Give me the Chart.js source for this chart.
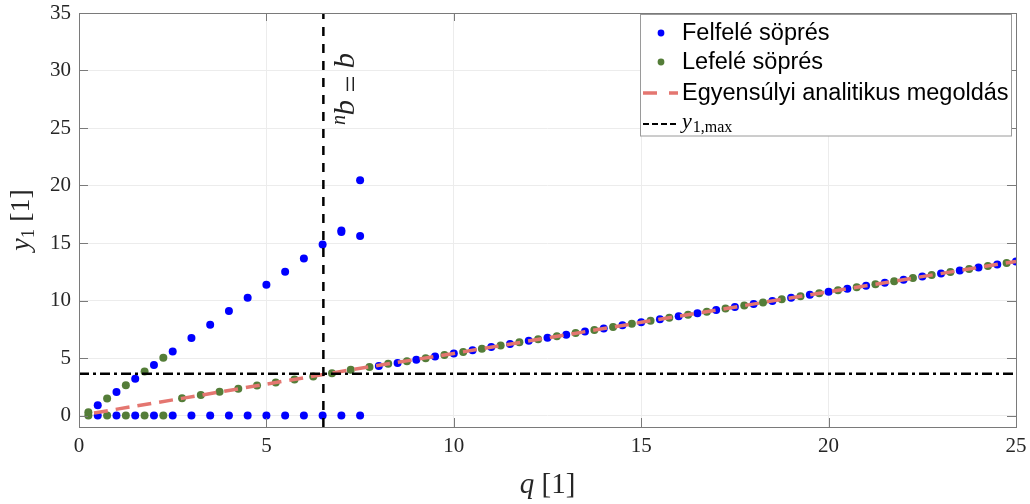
<!DOCTYPE html>
<html>
<head>
<meta charset="utf-8">
<script src="https://cdn.jsdelivr.net/npm/chart.js@4.4.1/dist/chart.umd.min.js"></script>
<style>
  html, body { margin: 0; padding: 0; background: #fff; }
  canvas { display: block; }
</style>
</head>
<body>
<canvas id="myChart" width="1030" height="504"></canvas>
<script>
// felfelé söprés (kék pontok)
const upQ = [
    0.5, 1, 1.5, 2, 2.5, 3, 3.5, 4, 4.5, 5, 5.5, 6, 6.5, 7, 7.5,
    0.5, 1, 1.5, 2, 2.5, 3, 3.5, 4, 4.5, 5, 5.5, 6, 6.5, 7, 7, 7.5, 7.5,
    8, 8.5, 9, 9.5, 10, 10.5, 11, 11.5, 12, 12.5, 13, 13.5, 14, 14.5, 15, 15.5, 16, 16.5,
    17, 17.5, 18, 18.5, 19, 19.5, 20, 20.5, 21, 21.5, 22, 22.5, 23, 23.5, 24, 24.5, 25
];
const upY = [
    0, 0, 0, 0, 0, 0, 0, 0, 0, 0, 0, 0, 0, 0, 0,
    0.89, 2.04, 3.19, 4.40, 5.57, 6.75, 7.90, 9.08, 10.23, 11.38, 12.50, 13.65, 14.87, 16.08, 15.95, 20.46, 15.60,
    4.30, 4.57, 4.84, 5.12, 5.40, 5.67, 5.95, 6.22, 6.50, 6.76, 7.03, 7.30, 7.57, 7.84, 8.10, 8.37, 8.63, 8.90,
    9.17, 9.43, 9.70, 9.96, 10.23, 10.49, 10.76, 11.02, 11.29, 11.55, 11.81, 12.08, 12.34, 12.60, 12.87, 13.13, 13.40
];

// lefelé söprés (zöld pontok)
const downQ = [
    0.25, 0.75, 1.25, 1.75, 2.25,
    0.25, 0.75, 1.25, 1.75, 2.25,
    2.75, 3.25, 3.75, 4.25, 4.75, 5.25, 5.75, 6.25, 6.75, 7.25, 7.75, 8.25, 8.75, 9.25, 9.75,
    10.25, 10.75, 11.25, 11.75, 12.25, 12.75, 13.25, 13.75, 14.25, 14.75, 15.25, 15.75, 16.25, 16.75,
    17.25, 17.75, 18.25, 18.75, 19.25, 19.75, 20.25, 20.75, 21.25, 21.75, 22.25, 22.75, 23.25, 23.75,
    24.25, 24.75
];
const downY = [
    0, 0, 0, 0, 0,
    0.28, 1.47, 2.64, 3.82, 5.03,
    1.49, 1.78, 2.06, 2.33, 2.61, 2.87, 3.13, 3.39, 3.68, 3.97, 4.22, 4.50, 4.71, 4.98, 5.26,
    5.53, 5.81, 6.08, 6.36, 6.63, 6.90, 7.17, 7.43, 7.70, 7.97, 8.24, 8.50, 8.77, 9.03,
    9.30, 9.57, 9.83, 10.10, 10.36, 10.63, 10.89, 11.16, 11.42, 11.68, 11.95, 12.21, 12.47, 12.74,
    13.00, 13.27
];

// egyensúlyi analitikus megoldás
const eqQ = [0.4, 2.75, 5, 7.25, 10, 15, 20, 25];
const eqY = [0.22, 1.49, 2.73, 3.97, 5.40, 8.10, 10.76, 13.40];

// y1,max és q = q_u
const y1Max = 3.62;
const qU = 6.52;
const qRange = [0, 25];
const yRange = [-1, 35];
const tickStep = 5;

const serif = "'Liberation Serif', 'DejaVu Serif', serif";
const sans = "'Liberation Sans', Arial, sans-serif";
const BLUE = '#0000ff';
const GREEN = '#547d38';
const RED = 'rgb(228,118,112)';
const FRAME = '#7a7a7a';

function pts(xs, ys) {
    return xs.map((x, i) => ({ x: x, y: ys[i] }));
}

// alsó indexes szöveg (pl. y_1), forgatott koordinátarendszerben is
function mathText(ctx, parts, x, y) {
    let w = 0;
    parts.forEach(p => { ctx.font = p.font; w += ctx.measureText(p.t).width; });
    let cx = x - w / 2;
    parts.forEach(p => {
        ctx.font = p.font;
        ctx.fillText(p.t, cx, y + (p.dy || 0));
        cx += ctx.measureText(p.t).width;
    });
}

const framePlugin = {
    id: 'frame',
    afterDatasetsDraw(chart) {
        const ctx = chart.ctx;
        const a = chart.chartArea;
        const xs = chart.scales.x, ys = chart.scales.y;
        ctx.save();
        // keret + befelé mutató osztások
        ctx.strokeStyle = FRAME;
        ctx.lineWidth = 1;
        ctx.strokeRect(Math.round(a.left) + 0.5, Math.round(a.top) + 0.5,
            Math.round(a.right - a.left), Math.round(a.bottom - a.top));
        ctx.beginPath();
        ys.ticks.forEach(t => {
            const py = Math.round(ys.getPixelForValue(t.value)) + 0.5;
            ctx.moveTo(a.left, py); ctx.lineTo(a.left + 9, py);
            ctx.moveTo(a.right, py); ctx.lineTo(a.right - 9, py);
        });
        xs.ticks.forEach(t => {
            const px = Math.round(xs.getPixelForValue(t.value)) + 0.5;
            ctx.moveTo(px, a.bottom); ctx.lineTo(px, a.bottom - 9);
            ctx.moveTo(px, a.top); ctx.lineTo(px, a.top + 8);
        });
        ctx.stroke();

        ctx.fillStyle = '#222';
        ctx.textBaseline = 'alphabetic';
        // q = q_u felirat a függőleges vonal mellett
        ctx.save();
        ctx.translate(xs.getPixelForValue(qU) + 17, 89);
        ctx.rotate(Math.PI / 2);
        mathText(ctx, [
            { t: 'q', font: 'italic 30px ' + serif },
            { t: ' = ', font: '30px ' + serif },
            { t: 'q', font: 'italic 30px ' + serif },
            { t: 'u', font: 'italic 20px ' + serif, dy: 5 }
        ], 0, 0);
        ctx.restore();

        // tengelyfeliratok
        ctx.fillStyle = '#262626';
        mathText(ctx, [
            { t: 'q', font: 'italic 29px ' + serif },
            { t: ' [1]', font: '29px ' + serif }
        ], (a.left + a.right) / 2, 493);
        ctx.save();
        ctx.translate(29, 220);
        ctx.rotate(-Math.PI / 2);
        mathText(ctx, [
            { t: 'y', font: 'italic 28px ' + serif },
            { t: '1', font: '19px ' + serif, dy: 5 },
            { t: ' [1]', font: '28px ' + serif }
        ], 0, 0);
        ctx.restore();

        // jelmagyarázat
        const lx = 640.5, ly = 14.5, lw = 371, lh = 121.5;
        ctx.fillStyle = '#fff';
        ctx.fillRect(lx, ly, lw, lh);
        ctx.strokeStyle = '#9a9a9a';
        ctx.lineWidth = 1;
        ctx.strokeRect(lx, ly, lw, lh);

        const tx = 682;
        ctx.fillStyle = '#000';
        ctx.textBaseline = 'middle';
        ctx.font = '23.5px ' + sans;
        [[BLUE, 'Felfelé söprés', 33], [GREEN, 'Lefelé söprés', 62]].forEach(r => {
            ctx.beginPath();
            ctx.fillStyle = r[0];
            ctx.arc(661, r[2], 3.4, 0, Math.PI * 2);
            ctx.fill();
            ctx.fillStyle = '#000';
            ctx.fillText(r[1], tx, r[2] + 1);
        });
        ctx.strokeStyle = RED;
        ctx.lineWidth = 3.5;
        ctx.beginPath();
        ctx.moveTo(643, 93); ctx.lineTo(657, 93);
        ctx.moveTo(669, 93); ctx.lineTo(678, 93);
        ctx.stroke();
        ctx.fillText('Egyensúlyi analitikus megoldás', tx, 94);

        ctx.strokeStyle = '#000';
        ctx.lineWidth = 2;
        ctx.setLineDash([6, 3]);
        ctx.beginPath();
        ctx.moveTo(643, 124); ctx.lineTo(679, 124);
        ctx.stroke();
        ctx.setLineDash([]);
        ctx.textBaseline = 'alphabetic';
        ctx.font = 'italic 22px ' + serif;
        ctx.fillText('y', tx, 128);
        const yw = ctx.measureText('y').width;
        ctx.font = '16px ' + serif;
        ctx.fillText('1,max', tx + yw + 1, 132);
        ctx.restore();
    }
};

const ctx = document.getElementById('myChart').getContext('2d');
new Chart(ctx, {
    type: 'scatter',
    data: {
        datasets: [{
            label: 'q = q_u',
            data: pts([qU, qU], yRange),
            showLine: true,
            borderColor: '#000',
            borderWidth: 2.5,
            borderDash: [9, 8],
            pointRadius: 0,
            order: 0
        }, {
            label: 'y1,max',
            data: pts(qRange, [y1Max, y1Max]),
            showLine: true,
            borderColor: '#000',
            borderWidth: 2.5,
            borderDash: [10, 4, 3, 4],
            pointRadius: 0,
            order: 1
        }, {
            label: 'Egyensúlyi analitikus megoldás',
            data: pts(eqQ, eqY),
            showLine: true,
            borderColor: RED,
            borderWidth: 3.5,
            borderDash: [14, 8],
            pointRadius: 0,
            order: 2
        }, {
            label: 'Felfelé söprés',
            data: pts(upQ, upY),
            pointRadius: 4,
            pointBorderWidth: 0,
            pointBackgroundColor: BLUE,
            backgroundColor: BLUE,
            order: 3
        }, {
            label: 'Lefelé söprés',
            data: pts(downQ, downY),
            pointRadius: 4,
            pointBorderWidth: 0,
            pointBackgroundColor: GREEN,
            backgroundColor: GREEN,
            order: 4
        }]
    },
    options: {
        responsive: false,
        animation: false,
        layout: {
            padding: { left: 0, right: 14, top: 13, bottom: 0 }
        },
        scales: {
            x: {
                type: 'linear',
                min: qRange[0],
                max: qRange[1],
                ticks: {
                    stepSize: tickStep,
                    includeBounds: false,
                    padding: 7,
                    color: '#262626',
                    font: { family: serif, size: 21 }
                },
                grid: { color: '#ececec', drawTicks: false },
                border: { display: false },
                afterFit: s => {
                    s.height = 77;
                    s.paddingLeft = 0;
                    s.paddingRight = 0;
                }
            },
            y: {
                min: yRange[0],
                max: yRange[1],
                ticks: {
                    stepSize: tickStep,
                    includeBounds: false,
                    padding: 8,
                    color: '#262626',
                    font: { family: serif, size: 21 }
                },
                grid: { color: '#ececec', drawTicks: false },
                border: { display: false },
                afterFit: s => {
                    s.width = 79;
                    s.paddingTop = 0;
                    s.paddingBottom = 0;
                }
            }
        },
        plugins: {
            legend: { display: false },
            tooltip: { enabled: false }
        }
    },
    plugins: [framePlugin]
});
</script>
</body>
</html>
